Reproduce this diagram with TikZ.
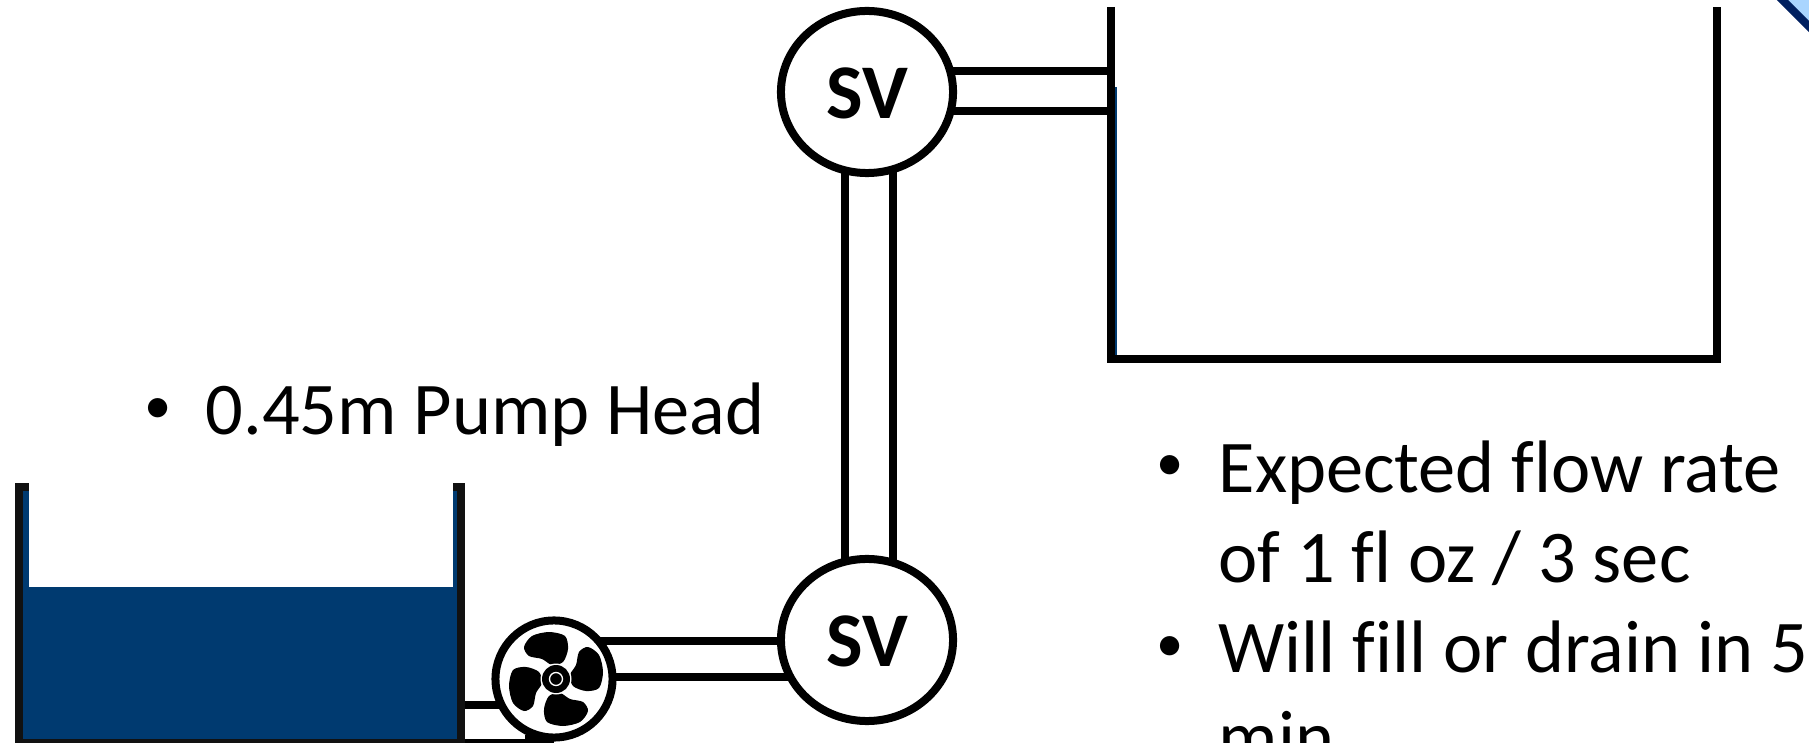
\documentclass[tikz,border=0pt]{standalone}
\usepackage{fontspec}
\setmainfont{Carlito}[Ligatures=NoCommon]
\usetikzlibrary{shapes.geometric,backgrounds}
\definecolor{water}{HTML}{003A70}
\definecolor{navy}{HTML}{002060}
\definecolor{skyfill}{HTML}{A9D5FF}
\definecolor{tankblack}{HTML}{111111}

\begin{document}
\begin{tikzpicture}[x=0.01cm,y=-0.01cm,
    pipe/.style={line width=0.08cm, double=white},
    wall/.style={line width=0.08cm, miter limit=10},
    svnode/.style={ellipse, draw, fill=white, line width=0.08cm, minimum width=1.72cm, minimum height=1.62cm, inner sep=0pt, font=\fontsize{22}{25.6}\selectfont\bfseries},
    fannode/.style={circle, draw, fill=white, line width=0.08cm, minimum size=1.17cm, inner sep=0pt},
    note/.style={anchor=base west, inner sep=0pt, align=left, font=\fontsize{21.15}{25.6}\selectfont},
    dotnode/.style={inner sep=0pt, font=\fontsize{15.5}{16}\selectfont}]
  \useasboundingbox (0,0) rectangle (1809,743);

  % corner of the next shape
  \filldraw[navy, fill=skyfill, line width=0.08cm] (1772.5,-10) -- (1819,36.5) -- (1819,-10) -- cycle;

  % lower tank
  \fill[water] (15,491) rectangle (465,743);
  \fill[white] (29,483) rectangle (453,587);
  \fill[tankblack] (15,483) rectangle (23,743);
  \fill[tankblack] (457,483) rectangle (465,743);
  \fill[tankblack] (15,739) rectangle (465,743);
  \fill[tankblack] (23,483) rectangle (29,491);
  \fill[tankblack] (453,483) rectangle (457,491);

  % upper tank
  \fill[water] (1115,87) rectangle (1117,355);
  \draw[wall] (1111,7) -- (1111,359) -- (1717,359) -- (1717,7);

  \node[svnode] (svhigh) at (867,92) {\raisebox{-0.26cm}[0.5cm][0.5cm]{SV}};
  \node[svnode] (svlow) at (867,640) {\raisebox{-0.26cm}[0.5cm][0.5cm]{SV}};
  \node[fannode] (pump) at (554,679) {};

  \coordinate (tankout) at (465,722);
  \coordinate (outlet) at (700,659);
  \coordinate (riser) at (869,400);
  \coordinate (inlet) at (1107,91);
  \coordinate (hub) at (556,679);

  \begin{scope}[on background layer]
    \draw[pipe, double distance=0.26cm] (tankout) -- (tankout -| pump);
    \fill[white] (465,709) rectangle (525,739);
    \draw[pipe, double distance=0.28cm] (outlet -| pump) -- (outlet -| svlow);
    \draw[pipe, double distance=0.40cm] (riser |- svhigh) -- (riser |- svlow);
    \draw[pipe, double distance=0.32cm] (inlet -| svhigh) -- (inlet);
  \end{scope}

  % fan blades
  \foreach \a in {0,90,180,270} {
    \begin{scope}[shift={(hub)}, rotate=\a]
      \fill plot[smooth cycle] coordinates {(-32,-32) (-24,-43) (-7,-47) (9,-43) (12,-30) (7,-17) (-4,-14) (-14,-20) (-27,-23)};
    \end{scope}
  }
  \fill[white] (hub) circle (15.5);
  \fill (hub) circle (14);
  \draw[white, line width=0.013cm] (hub) circle (6.5);

  \node[dotnode] (dothead) at (158,411) {•};
  \node[note] (head) at (205,435) {0.45m Pump Head};
  \node[dotnode] (dotflow) at (1170,468) {•};
  \node[note] (flow) at (1218,492) {Expected flow rate};
  \node[note] (flowb) at (1218,582) {of 1 fl oz / 3 sec};
  \node[dotnode] (dotfill) at (1170,649) {•};
  \node[note] (fill) at (1218,672) {Will fill or drain in 5};
  \node[note] (fillb) at (1218,762) {min};
\end{tikzpicture}
\end{document}
